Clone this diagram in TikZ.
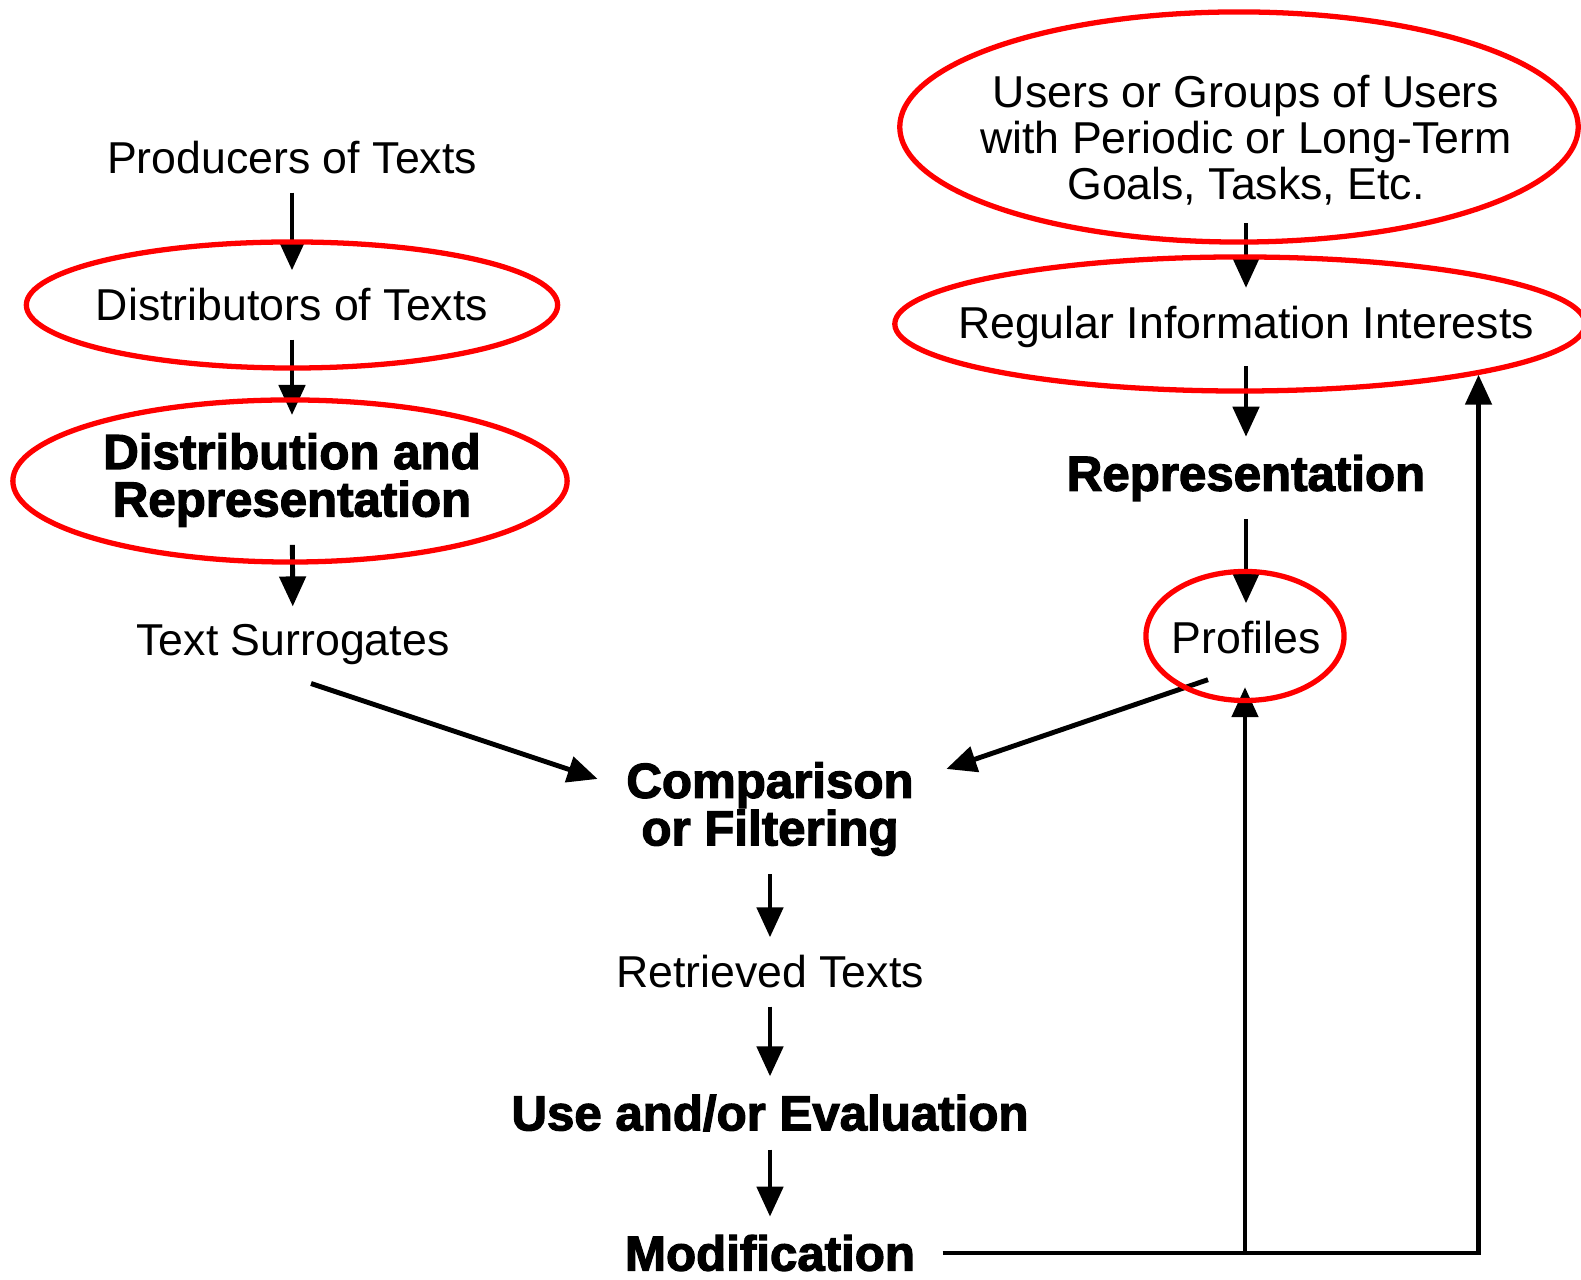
\documentclass[tikz,border=0pt]{standalone}
\usepackage{fontspec}
\setmainfont{Liberation Sans}
\newfontfamily\heavyfont[FakeBold=2.5]{Liberation Sans Bold}
\usetikzlibrary{arrows.meta, shapes.geometric, backgrounds}

\begin{document}
\begin{tikzpicture}[
    x=0.01cm, y=-0.01cm,
    plain node/.style={inner xsep=2pt, inner ysep=5pt, align=center, font=\fontsize{12.7}{13}\selectfont},
    bold node/.style={inner xsep=2pt, inner ysep=5pt, align=center, font=\fontsize{14}{13.5}\heavyfont},
    ring node/.style={ellipse, draw=red, line width=1.5pt, inner sep=0pt},
    flow/.style={-{Triangle[length=0.3cm, width=0.26cm]}, line width=1.4pt}
]
    \useasboundingbox (0,0) rectangle (1581,1280);

    % Nodes
    \node[plain node] (prod) at (292,158) {Producers of Texts};
    \node[plain node] (dist) at (292,305) {Distributors of Texts};
    \node[bold node] (distrep) at (292,480) {Distribution and\\Representation};
    \node[plain node] (surr) at (293,645) {Text Surrogates};
    \node[bold node] (comp) at (770,809) {Comparison\\or Filtering};
    \node[plain node] (retr) at (770,972) {Retrieved Texts};
    \node[bold node] (use) at (770,1113) {Use and/or Evaluation};
    \node[bold node] (mod) at (770,1253) {Modification};
    \node[plain node] (users) at (1246,140) {Users or Groups of Users\\with Periodic or Long-Term\\Goals, Tasks, Etc.};
    \node[plain node] (regular) at (1246,327) {Regular Information Interests};
    \node[bold node] (rep) at (1246,478) {Representation};
    \node[plain node] (prof) at (1246,638) {Profiles};

    % Red rings
    \node[ring node, minimum width=5.31cm, minimum height=1.26cm] (distring) at (292,305) {};
    \node[ring node, minimum width=5.54cm, minimum height=1.62cm] (distrepring) at (290,481) {};
    \node[ring node, minimum width=6.78cm, minimum height=2.30cm] (usersring) at (1239,127) {};
    \node[ring node, minimum width=6.90cm, minimum height=1.34cm] (regring) at (1240,324) {};
    \node[ring node, minimum width=1.98cm, minimum height=1.29cm] (profring) at (1245,636) {};

    % Edges
    \begin{scope}[on background layer]
    \draw[flow] (prod) -- (dist);
    \draw[flow] (dist) -- (distrep);
    \draw[flow] (distrep) -- (surr);
    \draw[flow] ([xshift=0.18cm]surr.south) -- ([shift={(-0.21cm,0.30cm)}]comp.west);
    \draw[flow] ([shift={(-0.38cm,-0.07cm)}]prof.south) -- ([shift={(0.25cm,0.40cm)}]comp.east);
    \draw[flow] (comp) -- (retr);
    \draw[flow] (retr) -- (use);
    \draw[flow] (use) -- (mod);
    \draw[flow] (users) -- (regular);
    \draw[flow] (regular) -- (rep);
    \draw[flow] (rep) -- (prof);
    \draw[flow] ([xshift=0.2cm]mod.east) -| (regring.-12);
    \draw[flow, shorten >=-0.16cm] (mod.east -| profring.south) -- (profring.south);
    \end{scope}
\end{tikzpicture}
\end{document}
